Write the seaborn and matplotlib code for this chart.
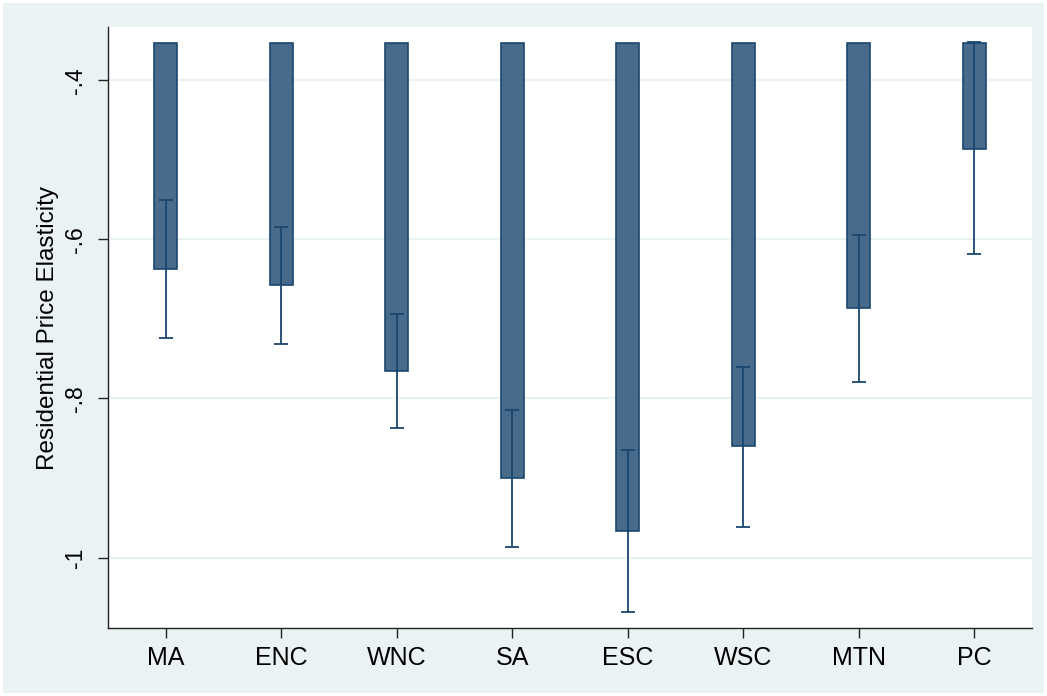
import numpy as np
import pandas as pd
import matplotlib
matplotlib.use("Agg")
import matplotlib.pyplot as plt
import seaborn as sns

regions = ["MA", "ENC", "WNC", "SA", "ESC", "WSC", "MTN", "PC"]
elasticity = [-0.637, -0.657, -0.765, -0.900, -0.967, -0.860, -0.686, -0.486]
ci_low = [-0.724, -0.732, -0.837, -0.987, -1.069, -0.961, -0.779, -0.619]
ci_high = [-0.551, -0.584, -0.694, -0.814, -0.865, -0.760, -0.594, -0.352]
y_ticks = [-1.0, -0.8, -0.6, -0.4]
y_tick_labels = ["-1", "-.8", "-.6", "-.4"]
bar_base = -0.3527

sns.set_theme(style="white")
plt.rcParams["font.family"] = ["Liberation Sans", "DejaVu Sans"]

bg = "#EAF2F3"
navy = "#1A476F"
fill = "#486B8C"

fig = plt.figure(figsize=(10.47, 6.96), dpi=100)
fig.patch.set_facecolor(bg)
fig.patch.set_edgecolor("white")
fig.patch.set_linewidth(4)
ax = fig.add_axes([0.1032, 0.0977, 0.8825, 0.8635])
ax.set_facecolor("white")

df = pd.DataFrame({"region": regions, "value": elasticity})
df["height"] = df["value"] - bar_base

sns.barplot(data=df, x="region", y="height", order=regions, ax=ax,
            errorbar=None, width=0.197, color=fill, saturation=1,
            bottom=bar_base, edgecolor=navy, linewidth=1.2, zorder=2)

vals = np.array(elasticity)
yerr = np.vstack([vals - np.array(ci_low), np.array(ci_high) - vals])
ax.errorbar(np.arange(len(regions)), vals, yerr=yerr, fmt="none",
            ecolor=navy, elinewidth=1.3, capsize=4.7, capthick=1.3, zorder=3)

ax.set_xlim(-0.5, len(regions) - 0.5)
ax.set_ylim(-1.0886, -0.333)
ax.set_yticks(y_ticks)
ax.set_yticklabels(y_tick_labels, rotation=90, va="center")
ax.grid(axis="y", color=bg, linewidth=1.6, zorder=0)
ax.set_axisbelow(True)

for s in ["top", "right"]:
    ax.spines[s].set_visible(False)
for s in ["left", "bottom"]:
    ax.spines[s].set_color("#222222")
    ax.spines[s].set_linewidth(1.0)

ax.tick_params(axis="both", which="major", direction="out", length=7,
               width=1.0, color="#222222", labelcolor="black",
               left=True, bottom=True)
ax.tick_params(axis="y", pad=8, labelsize=16.5)
ax.tick_params(axis="x", pad=6, labelsize=18)
ax.set_xlabel("")
ax.set_ylabel("Residential Price Elasticity", fontsize=17.5, labelpad=4, color="black")

fig.savefig("out.png", dpi=100, facecolor=fig.get_facecolor(), edgecolor="white")
